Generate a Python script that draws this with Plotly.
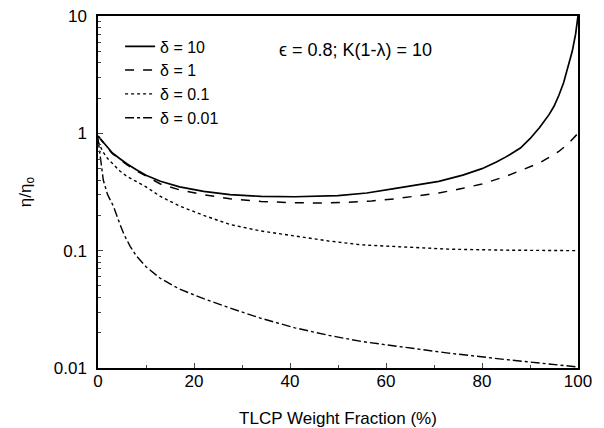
import plotly.graph_objects as go

# Data
x_d10 = [0, 0.5, 1, 2, 3, 4.5, 6, 8, 10, 13, 17, 22, 27.5, 34, 41, 50, 56, 62, 67, 71, 76, 80, 83, 85, 88, 90, 92, 94, 95, 96, 97, 98, 98.8, 99.5, 100]
y_d10 = [0.95, 0.9, 0.85, 0.76, 0.68, 0.61, 0.55, 0.49, 0.44, 0.39, 0.35, 0.32, 0.30, 0.29, 0.288, 0.295, 0.31, 0.34, 0.365, 0.39, 0.44, 0.50, 0.57, 0.63, 0.75, 0.90, 1.12, 1.45, 1.7, 2.1, 2.7, 3.7, 5.0, 7.0, 10]

x_d1 = [0, 0.5, 1, 2, 3, 4.5, 6, 8, 10, 13, 17, 22, 27.5, 34, 41, 46, 52, 57, 62, 67, 71, 76, 80, 85, 89, 92, 96, 98, 100]
y_d1 = [0.95, 0.9, 0.85, 0.75, 0.67, 0.6, 0.54, 0.48, 0.43, 0.37, 0.33, 0.30, 0.277, 0.263, 0.256, 0.255, 0.258, 0.265, 0.277, 0.295, 0.31, 0.34, 0.37, 0.43, 0.50, 0.56, 0.70, 0.82, 1.0]

x_d01 = [0, 0.5, 1, 2, 3, 4.5, 6, 8, 10, 13, 17, 22, 27.5, 34, 41, 48, 55, 64, 73, 85, 100]
y_d01 = [0.85, 0.77, 0.70, 0.61, 0.55, 0.48, 0.43, 0.39, 0.35, 0.29, 0.24, 0.20, 0.167, 0.147, 0.133, 0.121, 0.112, 0.107, 0.103, 0.101, 0.10]

x_d001 = [0, 0.3, 0.7, 1.1, 2, 3.2, 4.6, 5.5, 6.7, 8, 10, 13, 17, 22, 27.5, 34, 41, 48, 55, 64, 73, 85, 100]
y_d001 = [0.9, 0.7, 0.52, 0.40, 0.30, 0.24, 0.167, 0.135, 0.109, 0.09, 0.073, 0.058, 0.047, 0.039, 0.0324, 0.0265, 0.022, 0.019, 0.0168, 0.015, 0.0134, 0.0118, 0.0102]

labels = ["δ = 10", "δ = 1", "δ = 0.1", "δ = 0.01"]
dashes = ["solid", "dash", "dot", "dashdot"]
widths = [1.7, 1.5, 1.4, 1.4]

x_ticks = [0, 20, 40, 60, 80, 100]
y_ticks = [0.01, 0.1, 1, 10]
y_tick_text = ["0.01", "0.1", "1", "10"]
y_minor = [m * d for d in (0.01, 0.1, 1) for m in range(2, 10)]

fig = go.Figure()
for xs, ys, lab, dsh, w in zip([x_d10, x_d1, x_d01, x_d001],
                               [y_d10, y_d1, y_d01, y_d001],
                               labels, dashes, widths):
    fig.add_trace(go.Scatter(x=xs, y=ys, mode="lines", name=lab,
                             line=dict(color="black", dash=dsh, width=w)))

font = "Liberation Sans, Arial, sans-serif"
fig.update_layout(
    width=604, height=428,
    margin=dict(l=98, r=26, t=16, b=60, autoexpand=False),
    paper_bgcolor="white", plot_bgcolor="white",
    font=dict(family=font, size=17, color="black"),
    showlegend=True,
    legend=dict(x=0.046, y=0.962, xanchor="left", yanchor="top",
                bgcolor="rgba(0,0,0,0)", font=dict(size=16),
                tracegroupgap=0, itemwidth=30),
    xaxis=dict(range=[0, 100], tickvals=x_ticks,
               ticks="inside", ticklen=5, showline=True, linecolor="black", linewidth=1.5,
               mirror=True, showgrid=False, zeroline=False, ticklabelstandoff=-3,
               tickfont=dict(size=17),
               minor=dict(ticks="inside", ticklen=3, dtick=10),
               title=dict(text="TLCP Weight Fraction (%)", font=dict(size=17), standoff=25)),
    yaxis=dict(type="log", range=[-2, 1], tickvals=y_ticks, ticktext=y_tick_text,
               ticks="inside", ticklen=5, showline=True, linecolor="black", linewidth=1.5,
               mirror=True, showgrid=False, zeroline=False, ticklabelstandoff=6,
               tickfont=dict(size=17),
               minor=dict(ticks="inside", ticklen=3, tickvals=y_minor, showgrid=False),
               title=dict(text="η/η<sub>o</sub>", font=dict(size=17), standoff=18)),
)
fig.add_annotation(x=0.372, y=0.903, xref="paper", yref="paper", xanchor="left", yanchor="middle",
                   text="ϵ = 0.8; K(1-λ) = 10", showarrow=False, font=dict(size=18))

fig.write_html("out.html", config={"displayModeBar": False},
               post_script="document.body.style.margin='0';document.body.style.padding='0';")
